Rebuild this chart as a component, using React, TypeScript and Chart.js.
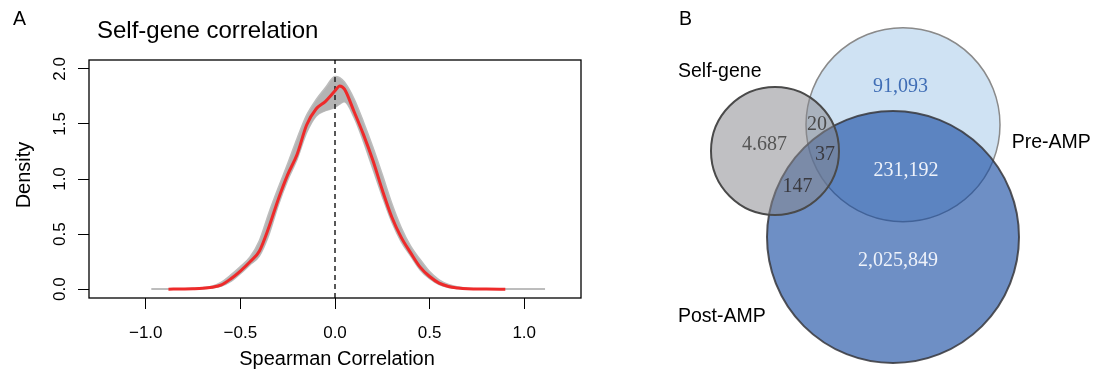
import React, { useEffect, useRef } from "react";
import { Chart, registerables } from "chart.js";

Chart.register(...registerables);

// ---------- Panel A: density data ----------
const X_GRID = [-0.97, -0.88, -0.8, -0.75, -0.7, -0.65, -0.6, -0.55, -0.5, -0.45, -0.4, -0.35, -0.3, -0.25, -0.2, -0.15, -0.1, -0.05, 0, 0.025, 0.05, 0.1, 0.15, 0.2, 0.25, 0.3, 0.35, 0.4, 0.45, 0.5, 0.55, 0.6, 0.65, 0.7, 0.8, 0.9, 1.0, 1.11];
const RED_DENSITY = [null, 0, 0.002, 0.004, 0.008, 0.018, 0.04, 0.095, 0.165, 0.247, 0.345, 0.56, 0.815, 1.04, 1.225, 1.49, 1.635, 1.705, 1.8, 1.845, 1.815, 1.615, 1.405, 1.17, 0.9, 0.655, 0.47, 0.33, 0.2, 0.115, 0.055, 0.025, 0.011, 0.004, 0.001, 0, null, null];
const GRAY_UPPER = [0.004, 0.004, 0.005, 0.008, 0.014, 0.028, 0.065, 0.13, 0.205, 0.29, 0.44, 0.69, 0.92, 1.14, 1.37, 1.58, 1.72, 1.83, 1.93, 1.92, 1.88, 1.73, 1.52, 1.29, 1.04, 0.78, 0.56, 0.39, 0.27, 0.16, 0.085, 0.042, 0.019, 0.009, 0.004, 0.003, 0.003, 0.003];
const GRAY_LOWER = [0, 0, 0, 0, 0.003, 0.01, 0.028, 0.07, 0.14, 0.22, 0.3, 0.49, 0.76, 0.99, 1.18, 1.42, 1.57, 1.62, 1.65, 1.68, 1.7, 1.56, 1.34, 1.09, 0.84, 0.61, 0.43, 0.3, 0.175, 0.095, 0.042, 0.016, 0.006, 0.002, 0, 0, 0, 0];
const X_TICKS = [-1, -0.5, 0, 0.5, 1];
const X_TICK_LABELS = ["\u22121.0", "\u22120.5", "0.0", "0.5", "1.0"];
const Y_TICKS = [0, 0.5, 1, 1.5, 2];
const Y_TICK_LABELS = ["0.0", "0.5", "1.0", "1.5", "2.0"];
const X_RANGE = [-1.3, 1.3];
const Y_RANGE = [-0.08, 2.08];
const REFERENCE_X = 0;
const TITLE_A = "Self-gene correlation";
const X_TITLE = "Spearman Correlation";
const Y_TITLE = "Density";

// ---------- Panel B: Venn data ----------
const VENN_SETS = ["Self-gene", "Post-AMP", "Pre-AMP"];
const VENN_CX = [17.5, 29.3, 30.3];
const VENN_CY = [21.9, 13.3, 24.53];
const VENN_R = [6.4, 12.6, 9.7];
const REGION_COUNTS = ["4.687", "20", "37", "147", "91,093", "231,192", "2,025,849"];
const REGION_X = [16.45, 21.7, 22.5, 19.75, 30.05, 30.6, 29.8];
const REGION_Y = [22.5, 24.5, 21.5, 18.35, 28.3, 19.9, 10.95];
const SET_LABEL_X = [7.8, 7.8, 41.17];
const SET_LABEL_Y = [29.8, 5.35, 22.7];

const SANS = "'Liberation Sans', Arial, sans-serif";
const SERIF = "'Liberation Serif', 'Times New Roman', serif";

const VENN_FILL = ["rgba(135,135,140,0.52)", "rgba(21,74,161,0.62)", "rgb(207,226,243)"];
const VENN_BORDER = ["#4a4a4a", "rgba(55,55,60,0.85)", "#8a8a8a"];
const VENN_BORDER_W = [2, 2, 1.5];
const REGION_COLOR = ["#555555", "#4a4a4a", "#3a3a40", "#3a3a40", "#3f6db5", "#eef2fa", "#eef2fa"];

function DensityPanel() {
  const ref = useRef<HTMLCanvasElement>(null);
  useEffect(() => {
    if (!ref.current) return;
    const pts = (arr: (number | null)[]) =>
      X_GRID.map((x, i) => ({ x, y: arr[i] })).filter((p) => p.y !== null);

    const textPlugin = {
      id: "panelAText",
      afterDraw(chart: any) {
        const { ctx, chartArea, scales } = chart;
        ctx.save();
        ctx.strokeStyle = "#000";
        ctx.lineWidth = 1.3;
        ctx.strokeRect(chartArea.left, chartArea.top, chartArea.right - chartArea.left, chartArea.bottom - chartArea.top);
        ctx.fillStyle = "#000";
        ctx.font = `19.5px ${SANS}`;
        ctx.textAlign = "left";
        ctx.textBaseline = "middle";
        ctx.fillText("A", 13, 20);
        ctx.font = `24px ${SANS}`;
        ctx.textBaseline = "alphabetic";
        ctx.fillText(TITLE_A, 97, 38);
        ctx.font = `17px ${SANS}`;
        ctx.textAlign = "center";
        X_TICKS.forEach((v, i) => ctx.fillText(X_TICK_LABELS[i], scales.x.getPixelForValue(v), 337.5));
        Y_TICKS.forEach((v, i) => {
          ctx.save();
          ctx.translate(65, scales.y.getPixelForValue(v));
          ctx.rotate(-Math.PI / 2);
          ctx.fillText(Y_TICK_LABELS[i], 0, 0);
          ctx.restore();
        });
        ctx.font = `20px ${SANS}`;
        ctx.fillText(X_TITLE, (chartArea.left + chartArea.right) / 2 + 2, 364.5);
        ctx.save();
        ctx.translate(29.5, 175);
        ctx.rotate(-Math.PI / 2);
        ctx.fillText(Y_TITLE, 0, 0);
        ctx.restore();
        ctx.restore();
      },
    };

    const chart = new Chart(ref.current, {
      type: "line",
      data: {
        datasets: [
          { label: "observed", data: pts(RED_DENSITY), borderColor: "#ee2a2a", borderWidth: 3, pointRadius: 0, cubicInterpolationMode: "monotone", fill: false },
          { label: "zero", data: [{ x: REFERENCE_X, y: Y_RANGE[0] }, { x: REFERENCE_X, y: Y_RANGE[1] }], borderColor: "#222", borderWidth: 1.5, borderDash: [5, 4], pointRadius: 0, fill: false },
          { label: "upper", data: pts(GRAY_UPPER), borderColor: "#bdbdbd", borderWidth: 1.5, backgroundColor: "#b3b3b3", fill: "+1", pointRadius: 0, cubicInterpolationMode: "monotone" },
          { label: "lower", data: pts(GRAY_LOWER), borderColor: "#bdbdbd", borderWidth: 1.5, pointRadius: 0, fill: false, cubicInterpolationMode: "monotone" },
        ] as any,
      },
      options: {
        responsive: false,
        animation: false,
        events: [],
        layout: { padding: { left: 0, right: 19, top: 60, bottom: 0 } },
        plugins: { legend: { display: false }, tooltip: { enabled: false } },
        scales: {
          x: {
            type: "linear", min: X_RANGE[0], max: X_RANGE[1],
            afterBuildTicks: (s: any) => { s.ticks = X_TICKS.map((v) => ({ value: v })); },
            afterFit: (s: any) => { s.height = 72; },
            ticks: { display: false },
            grid: { drawOnChartArea: false, drawTicks: true, tickLength: 11, color: "#000", lineWidth: 1 },
            border: { display: false },
          },
          y: {
            type: "linear", min: Y_RANGE[0], max: Y_RANGE[1],
            afterBuildTicks: (s: any) => { s.ticks = Y_TICKS.map((v) => ({ value: v })); },
            afterFit: (s: any) => { s.width = 89; },
            ticks: { display: false },
            grid: { drawOnChartArea: false, drawTicks: true, tickLength: 11, color: "#000", lineWidth: 1 },
            border: { display: false },
          },
        },
      } as any,
      plugins: [textPlugin],
    });
    return () => chart.destroy();
  }, []);
  return <canvas ref={ref} width={600} height={370} style={{ position: "absolute", left: 0, top: 0, width: 600, height: 370 }} />;
}

function VennPanel() {
  const ref = useRef<HTMLCanvasElement>(null);
  useEffect(() => {
    if (!ref.current) return;
    const textPlugin = {
      id: "panelBText",
      afterDraw(chart: any) {
        const { ctx, scales } = chart;
        const px = (v: number) => scales.x.getPixelForValue(v);
        const py = (v: number) => scales.y.getPixelForValue(v);
        ctx.save();
        ctx.textBaseline = "middle";
        ctx.font = `20px ${SERIF}`;
        ctx.textAlign = "center";
        REGION_COUNTS.forEach((t, i) => {
          ctx.fillStyle = REGION_COLOR[i];
          ctx.fillText(t, px(REGION_X[i]), py(REGION_Y[i]));
        });
        ctx.fillStyle = "#000";
        ctx.textAlign = "left";
        ctx.font = `19.5px ${SANS}`;
        VENN_SETS.forEach((t, i) => ctx.fillText(t, px(SET_LABEL_X[i]), py(SET_LABEL_Y[i])));
        ctx.fillText("B", 79, 20);
        ctx.restore();
      },
    };
    const chart = new Chart(ref.current, {
      type: "scatter",
      data: {
        datasets: VENN_SETS.map((name, i) => ({
          label: name,
          data: [{ x: VENN_CX[i], y: VENN_CY[i] }],
          pointRadius: (c: any) => {
            const s = c.chart.scales.x;
            return Math.abs(s.getPixelForValue(VENN_R[i]) - s.getPixelForValue(0));
          },
          pointBackgroundColor: VENN_FILL[i],
          pointBorderColor: VENN_BORDER[i],
          pointBorderWidth: VENN_BORDER_W[i],
        })) as any,
      },
      options: {
        responsive: false,
        animation: false,
        events: [],
        layout: { padding: 0 },
        plugins: { legend: { display: false }, tooltip: { enabled: false } },
        scales: {
          x: { type: "linear", min: 0, max: 49.9, display: false },
          y: { type: "linear", min: 0, max: 37, display: false },
        },
      } as any,
      plugins: [textPlugin],
    });
    return () => chart.destroy();
  }, []);
  return <canvas ref={ref} width={499} height={370} style={{ position: "absolute", left: 600, top: 0, width: 499, height: 370 }} />;
}

export default function App() {
  return (
    <div style={{ position: "absolute", left: 0, top: 0, width: 1099, height: 370, background: "#fff", overflow: "hidden" }}>
      <DensityPanel />
      <VennPanel />
    </div>
  );
}
